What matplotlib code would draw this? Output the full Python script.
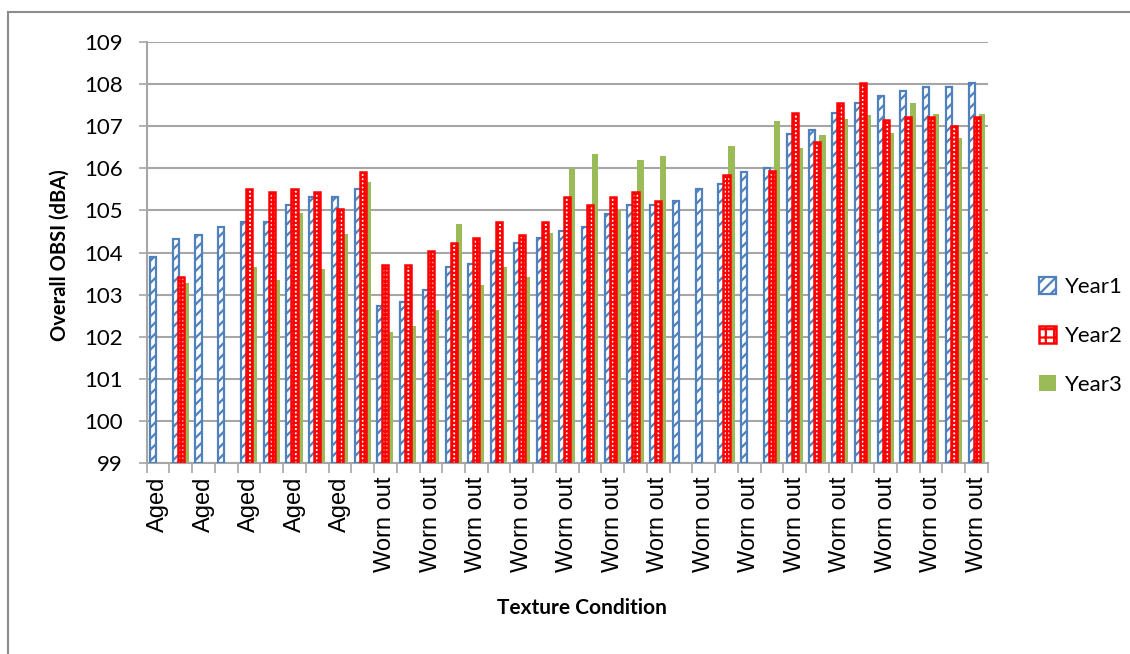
import numpy as np
import matplotlib
matplotlib.use("Agg")
import matplotlib.pyplot as plt
from matplotlib.patches import Patch
from matplotlib.legend_handler import HandlerTuple
from matplotlib.lines import Line2D

nan = np.nan

# overall OBSI per site, sorted by texture condition
conditions = ["Aged"] * 10 + ["Worn out"] * 27
year1 = [103.9, 104.33, 104.42, 104.6, 104.72, 104.72, 105.14, 105.31, 105.31, 105.52,
         102.72, 102.82, 103.12, 103.65, 103.73, 104.04, 104.22, 104.34, 104.52, 104.6,
         104.92, 105.12, 105.12, 105.22, 105.52, 105.62, 105.91, 106.01, 106.82, 106.92,
         107.31, 107.54, 107.71, 107.84, 107.92, 107.92, 108.03]
year2 = [nan, 103.42, nan, nan, 105.52, 105.43, 105.52, 105.43, 105.03, 105.91,
         103.71, 103.71, 104.04, 104.22, 104.34, 104.72, 104.42, 104.72, 105.31, 105.14,
         105.31, 105.43, 105.22, nan, nan, 105.83, nan, 105.93, 107.31, 106.62,
         107.54, 108.03, 107.14, 107.23, 107.23, 107.01, 107.23]
year3 = [nan, 103.28, nan, nan, 103.65, 103.34, 104.95, 103.62, 104.44, 105.67,
         102.12, 102.25, 102.64, 104.68, 103.22, 103.65, 103.43, 104.46, 106.01, 106.35,
         105.0, 106.2, 106.3, nan, nan, 106.54, nan, 107.12, 106.48, 106.78,
         107.16, 107.27, 106.84, 107.55, 107.3, 106.72, 107.3]
series_names = ["Year1", "Year2", "Year3"]
y_ticks = [99, 100, 101, 102, 103, 104, 105, 106, 107, 108, 109]

blue = "#4F81BD"
red = "#FF0000"
green = "#9BBB59"
grid_grey = "#A6A6A6"

plt.rcParams["font.family"] = ["Lato", "DejaVu Sans"]

fig = plt.figure(figsize=(11.3, 6.54), dpi=100)
ax = fig.add_axes([0.1298, 0.292, 0.7445, 0.6438])

x = np.arange(len(conditions))
w = 0.27
off = 0.22
base = y_ticks[0]
h1 = np.array(year1) - base
h2 = np.array(year2) - base
h3 = np.array(year3) - base

# Year1: white bars with blue diagonal hatch and outline
plt.rcParams["hatch.linewidth"] = 1.6
ax.bar(x - off, h1, w, bottom=base, color="white", edgecolor=blue, hatch="///", linewidth=0, zorder=3)
ax.bar(x - off, h1, w, bottom=base, fill=False, edgecolor=blue, linewidth=1.6, zorder=3)
# Year2: red lattice leaving small white squares
ax.bar(x, h2, w, bottom=base, color="white", edgecolor=red, hatch="++++", linewidth=0, zorder=4)
ax.bar(x, h2, w, bottom=base, fill=False, edgecolor=red, linewidth=1.8, zorder=4)
# Year3: plain green bars
ax.bar(x + off, h3, w, bottom=base, color=green, linewidth=0, zorder=2)

ax.set_xlim(-0.5, len(conditions) - 0.5)
ax.set_ylim(y_ticks[0], y_ticks[-1])
ax.set_yticks(y_ticks)
ax.yaxis.grid(True, color=grid_grey, linewidth=1.5, zorder=0)
ax.set_axisbelow(True)

# category boundaries carry the tick marks, labels sit on every other bar group
ax.set_xticks(np.arange(-0.5, len(conditions), 1.0))
ax.set_xticklabels([])
ax.set_xticks(x[::2], minor=True)
ax.set_xticklabels(conditions[::2], minor=True, rotation=90, fontsize=17,
                   family=["Liberation Sans", "DejaVu Sans"])
ax.tick_params(axis="x", which="major", length=7, color=grid_grey, width=1.2, direction="out")
ax.tick_params(axis="x", which="minor", length=0, pad=10)
ax.tick_params(axis="y", length=6, color=grid_grey, width=1.2, pad=11, labelsize=16)

for side in ("top", "right"):
    ax.spines[side].set_visible(False)
for side in ("left", "bottom"):
    ax.spines[side].set_color(grid_grey)
    ax.spines[side].set_linewidth(1.5)

ax.set_ylabel("Overall OBSI (dBA)", fontsize=14.5, fontweight="bold", va="center")
ax.yaxis.set_label_coords(-0.104, 0.494)
ax.set_xlabel("Texture Condition", fontsize=15, fontweight="bold", va="center")
ax.xaxis.set_label_coords(0.517, -0.344)

h_y1 = (Patch(facecolor="white", edgecolor=blue, hatch="///", linewidth=0),
        Patch(fill=False, edgecolor=blue, linewidth=1.6))
h_y2 = (Patch(facecolor="white", edgecolor=red, hatch="++", linewidth=0),
        Patch(fill=False, edgecolor=red, linewidth=1.8))
h_y3 = Patch(facecolor=green, linewidth=0)
fig.legend([h_y1, h_y2, h_y3], series_names, loc="center left", bbox_to_anchor=(0.902, 0.486),
           frameon=False, fontsize=16, handlelength=0.75, handleheight=0.75,
           handletextpad=0.4, labelspacing=1.3,
           handler_map={tuple: HandlerTuple(ndivide=1, pad=0)})

# chart frame
fig.add_artist(Line2D([8 / 1130, 8 / 1130], [0, 1 - 12 / 654], transform=fig.transFigure,
                      color="#8C8C8C", linewidth=1.5))
fig.add_artist(Line2D([8 / 1130, 1], [1 - 12 / 654, 1 - 12 / 654], transform=fig.transFigure,
                      color="#8C8C8C", linewidth=1.5))

fig.savefig("out.png", dpi=100)
